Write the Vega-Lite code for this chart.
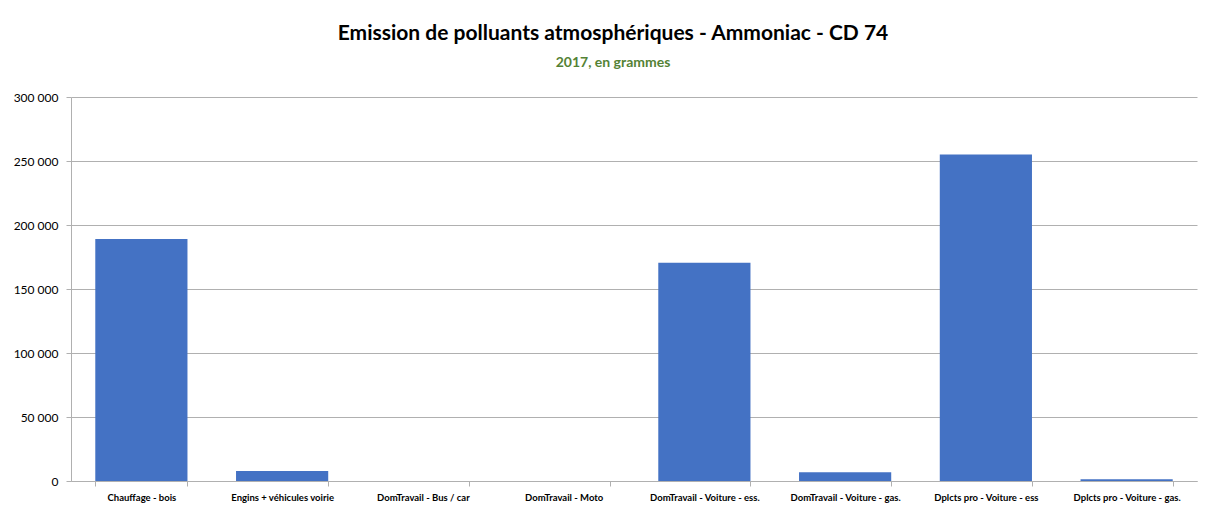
{
  "$schema": "https://vega.github.io/schema/vega-lite/v6.json",
  "width": 1126,
  "height": 384,
  "autosize": {"type": "none"},
  "padding": {"left": 71, "top": 97, "right": 19, "bottom": 32},
  "background": "white",
  "title": {
    "text": "Emission de polluants atmosphériques - Ammoniac - CD 74",
    "subtitle": "2017, en grammes",
    "anchor": "middle",
    "frame": "group",
    "dx": -21,
    "offset": 21,
    "font": "Lato",
    "fontSize": 21,
    "fontWeight": "bold",
    "color": "#000000",
    "subtitleFont": "Lato",
    "subtitleFontSize": 14,
    "subtitleFontWeight": "bold",
    "subtitleColor": "#548235",
    "subtitlePadding": 12
  },
  "data": {
    "values": [
      {"poste": "Chauffage - bois", "emission": 189000},
      {"poste": "Engins + véhicules voirie", "emission": 7800},
      {"poste": "DomTravail - Bus / car", "emission": 0},
      {"poste": "DomTravail - Moto", "emission": 0},
      {"poste": "DomTravail - Voiture  - ess.", "emission": 170500},
      {"poste": "DomTravail - Voiture  - gas.", "emission": 6900},
      {"poste": "Dplcts pro - Voiture  - ess", "emission": 255000},
      {"poste": "Dplcts pro - Voiture  - gas.", "emission": 1300}
    ]
  },
  "mark": {"type": "bar", "color": "#4472C4"},
  "encoding": {
    "x": {
      "field": "poste",
      "type": "nominal",
      "sort": null,
      "title": null,
      "scale": {"paddingInner": 0.345, "paddingOuter": 0.1725},
      "axis": {
        "labelAngle": 0,
        "tickBand": "extent",
        "tickSize": 5,
        "tickColor": "#b0b0b0",
        "domainColor": "#b0b0b0",
        "labelFont": "Lato",
        "labelFontSize": 9.5,
        "labelFontWeight": "bold",
        "labelColor": "#000000",
        "labelPadding": 6,
        "labelLimit": 140
      }
    },
    "y": {
      "field": "emission",
      "type": "quantitative",
      "title": null,
      "scale": {"domain": [0, 300000]},
      "axis": {
        "values": [0, 50000, 100000, 150000, 200000, 250000, 300000],
        "format": ",d",
        "grid": true,
        "gridColor": "#b0b0b0",
        "domainColor": "#b0b0b0",
        "tickColor": "#b0b0b0",
        "tickSize": 5,
        "labelFont": "Lato",
        "labelFontSize": 12,
        "labelColor": "#000000",
        "labelPadding": 8
      }
    }
  },
  "config": {
    "view": {"stroke": null},
    "locale": {
      "number": {"decimal": ",", "thousands": " ", "grouping": [3], "currency": ["", " €"]}
    }
  }
}
